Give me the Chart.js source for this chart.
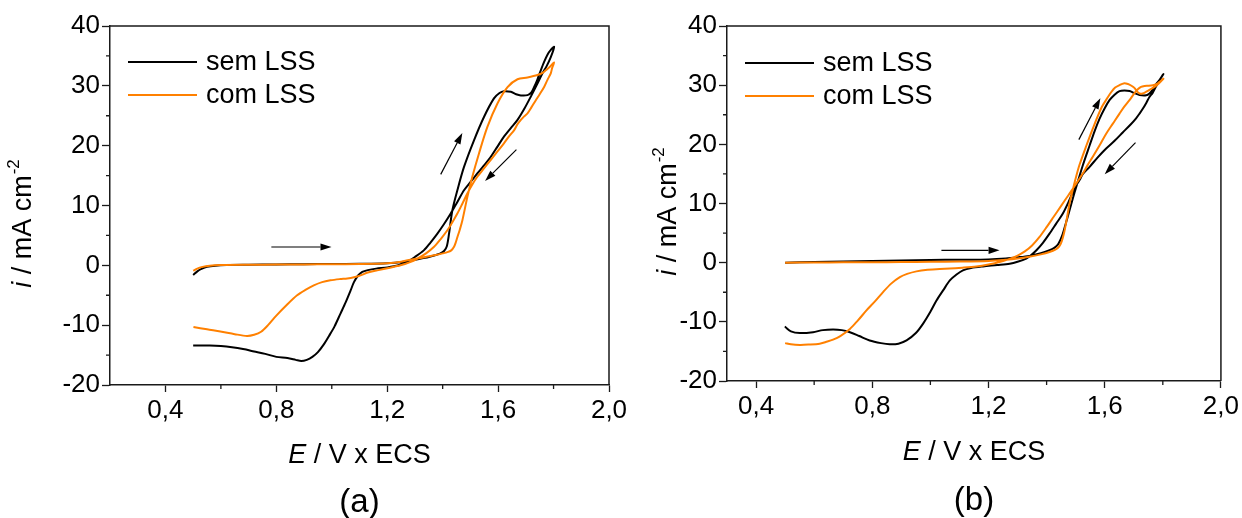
<!DOCTYPE html>
<html>
<head>
<meta charset="utf-8">
<script src="https://cdn.jsdelivr.net/npm/chart.js@4.4.1/dist/chart.umd.min.js"></script>
<style>
  html, body { margin: 0; padding: 0; background: #fff; }
  body { width: 1242px; height: 518px; position: relative; overflow: hidden; }
  .panel { position: absolute; top: 0; height: 518px; }
  #wrapA { left: 0; width: 660px; }
  #wrapB { left: 620px; width: 622px; }
</style>
</head>
<body>
<div id="wrapA" class="panel"><canvas id="cvA"></canvas></div>
<div id="wrapB" class="panel"><canvas id="cvB"></canvas></div>
<script>
// ---------- series labels ----------
const seriesLabels = ['sem LSS', 'com LSS'];
const seriesColors = ['#000000', '#ff8000'];

// ---------- panel (a): E / V and i / mA cm-2 ----------
// sem LSS, anodic scan
const semA_fwd_E = [0.50,0.515,0.53,0.55,0.58,0.62,0.70,0.80,0.90,1.00,1.10,1.20,1.26,1.30,1.35,1.39,1.405,1.415,1.423,1.435,1.453,1.477,1.513,1.549,1.585,1.605,1.621,1.646,1.665,1.682,1.706,1.72,1.73,1.742,1.754,1.766,1.778,1.79,1.802];
const semA_fwd_i = [-1.6,-1.0,-0.6,-0.25,-0.05,0.05,0.1,0.15,0.2,0.22,0.25,0.35,0.6,0.95,1.4,1.95,2.4,3.2,5.3,9.2,12.55,16.45,20.9,24.8,27.9,28.8,29.1,29.0,28.6,28.4,28.45,28.9,29.8,31.1,32.6,34.0,35.2,36.0,36.5];
// sem LSS, cathodic scan
const semA_rev_E = [1.79,1.775,1.76,1.74,1.718,1.695,1.67,1.645,1.621,1.597,1.573,1.549,1.525,1.50,1.477,1.453,1.429,1.405,1.381,1.356,1.332,1.30,1.272,1.24,1.20,1.16,1.13,1.11,1.095,1.08,1.068,1.05,1.031,1.01,0.99,0.97,0.95,0.93,0.91,0.89,0.87,0.84,0.80,0.76,0.72,0.68,0.64,0.60,0.56,0.53,0.50];
const semA_rev_i = [34.8,33.3,32.1,30.2,28.2,26.2,24.3,22.9,21.5,19.8,18.1,16.7,15.35,13.9,12.55,10.6,8.65,6.9,5.3,3.8,2.5,1.4,0.6,0.0,-0.35,-0.55,-0.8,-1.1,-1.7,-2.8,-4.2,-6.2,-8.1,-10.2,-11.8,-13.3,-14.5,-15.3,-15.8,-16.0,-15.8,-15.5,-15.3,-14.8,-14.4,-14.0,-13.7,-13.5,-13.4,-13.4,-13.4];
// com LSS, anodic scan
const comA_fwd_E = [0.50,0.515,0.53,0.56,0.60,0.70,0.80,0.90,1.00,1.10,1.20,1.25,1.284,1.33,1.369,1.40,1.417,1.431,1.441,1.447,1.453,1.462,1.471,1.489,1.507,1.531,1.561,1.598,1.634,1.67,1.706,1.742,1.762,1.772,1.787,1.802];
const comA_fwd_i = [-0.9,-0.55,-0.3,-0.05,0.05,0.1,0.12,0.15,0.18,0.22,0.35,0.6,0.95,1.3,1.67,2.0,2.2,2.5,3.1,3.8,4.7,6.0,7.5,11.4,14.8,18.7,23.1,27.1,29.8,31.1,31.4,31.8,32.2,32.6,33.2,33.9];
// com LSS, cathodic scan
const comA_rev_E = [1.795,1.79,1.778,1.766,1.75,1.736,1.72,1.706,1.694,1.682,1.67,1.658,1.64,1.621,1.597,1.573,1.549,1.525,1.507,1.489,1.471,1.453,1.435,1.417,1.393,1.369,1.34,1.308,1.28,1.248,1.21,1.164,1.13,1.104,1.08,1.056,1.03,0.995,0.965,0.935,0.905,0.875,0.84,0.80,0.77,0.745,0.72,0.694,0.65,0.598,0.55,0.501];
const comA_rev_i = [33.0,32.1,31.0,29.8,28.6,27.6,26.4,25.4,24.9,24.3,23.6,22.6,21.6,20.4,19.0,17.6,16.2,14.8,13.5,12.0,10.3,8.65,7.2,5.86,4.4,3.1,2.0,1.1,0.5,0.0,-0.4,-0.84,-1.2,-1.67,-2.0,-2.2,-2.3,-2.5,-2.8,-3.35,-4.1,-5.0,-6.5,-8.4,-10.0,-11.1,-11.6,-11.8,-11.5,-11.05,-10.7,-10.3];

// ---------- panel (b) ----------
const semB_fwd_E = [0.50,0.60,0.70,0.80,0.90,1.00,1.10,1.20,1.26,1.30,1.34,1.38,1.41,1.425,1.438,1.447,1.456,1.467,1.479,1.49,1.502,1.525,1.548,1.565,1.582,1.60,1.617,1.634,1.651,1.668,1.686,1.70,1.72,1.743,1.754,1.766,1.777,1.789,1.802];
const semB_fwd_i = [0.0,0.1,0.2,0.3,0.38,0.45,0.5,0.55,0.7,0.9,1.15,1.6,2.1,2.45,3.0,3.8,4.9,6.8,8.85,10.8,12.8,16.5,19.8,22.2,24.3,26.1,27.5,28.4,29.0,29.1,29.0,28.7,28.35,28.3,28.6,29.3,30.2,30.9,31.9];
const semB_rev_E = [1.79,1.777,1.765,1.754,1.743,1.731,1.72,1.708,1.69,1.662,1.634,1.605,1.576,1.548,1.525,1.514,1.50,1.49,1.475,1.456,1.433,1.41,1.388,1.365,1.345,1.33,1.30,1.273,1.23,1.181,1.14,1.112,1.09,1.067,1.045,1.021,1.0,0.975,0.95,0.918,0.89,0.86,0.83,0.791,0.755,0.723,0.695,0.665,0.63,0.596,0.551,0.52,0.499];
const semB_rev_i = [30.9,29.8,28.7,28.0,27.0,26.0,25.2,24.4,23.4,22.0,20.6,19.3,17.8,16.2,15.0,14.0,12.9,11.9,10.2,8.3,6.6,4.9,3.4,2.1,1.2,0.68,0.15,-0.17,-0.4,-0.63,-0.9,-1.3,-2.0,-3.0,-4.6,-6.4,-8.3,-10.3,-11.9,-13.15,-13.7,-13.8,-13.6,-13.15,-12.4,-11.75,-11.4,-11.3,-11.4,-11.75,-11.9,-11.6,-10.8];
const comB_fwd_E = [0.50,0.60,0.70,0.80,0.90,1.00,1.10,1.20,1.26,1.30,1.34,1.38,1.41,1.43,1.443,1.452,1.46,1.468,1.479,1.49,1.502,1.513,1.537,1.56,1.59,1.61,1.622,1.636,1.651,1.665,1.68,1.692,1.703,1.712,1.72,1.73,1.743,1.757,1.771,1.786,1.802];
const comB_fwd_i = [0.0,0.02,0.05,0.08,0.1,0.15,0.2,0.3,0.5,0.7,1.0,1.4,1.8,2.2,2.7,3.6,5.0,7.0,10.0,12.3,14.6,16.5,19.8,22.8,26.3,27.9,28.8,29.6,30.0,30.3,30.2,29.9,29.5,28.9,28.6,28.6,28.9,29.3,29.7,30.3,31.1];
const comB_rev_E = [1.79,1.78,1.766,1.751,1.737,1.725,1.714,1.70,1.686,1.668,1.651,1.628,1.605,1.582,1.559,1.54,1.525,1.50,1.475,1.45,1.425,1.40,1.375,1.35,1.325,1.30,1.27,1.238,1.20,1.158,1.11,1.067,1.032,0.99,0.952,0.92,0.895,0.866,0.837,0.81,0.78,0.75,0.723,0.69,0.665,0.64,0.619,0.58,0.551,0.52,0.50];
const comB_rev_i = [30.6,30.2,30.0,29.9,29.85,29.7,29.3,28.5,27.5,26.4,25.2,23.5,21.8,19.8,17.9,16.4,15.1,13.2,11.4,9.6,7.8,6.0,4.3,2.9,1.9,1.2,0.6,0.1,-0.3,-0.63,-0.85,-1.0,-1.05,-1.2,-1.47,-1.9,-2.44,-3.5,-4.97,-6.5,-8.07,-9.8,-11.2,-12.4,-13.0,-13.4,-13.7,-13.85,-13.9,-13.8,-13.6];

// ---------- axis ranges and ticks ----------
const yMin = -20, yMax = 40, yStep = 10;
const yMinorTicks = [-15, -5, 5, 15, 25, 35];
const xMaxE = 2.0, xStep = 0.4;
const xMinA = 0.2, xMinB = 0.3;
const xMinorTicks = [0.6, 1.0, 1.4, 1.8];

// scan-direction arrows [E1, i1, E2, i2] in data units
const arrowsA = [[0.782, 3.06, 0.999, 3.06], [1.393, 15.2, 1.471, 22.1], [1.666, 19.35, 1.553, 14.1]];
const arrowsB = [[1.038, 2.08, 1.238, 2.08], [1.511, 20.8, 1.585, 27.8], [1.706, 20.3, 1.600, 14.95]];

const FONT = '"Liberation Sans", Arial, Helvetica, sans-serif';
const TXT = 27;
Chart.defaults.font.family = FONT;
Chart.defaults.color = '#000';

function pts(E, I) { return E.map((e, k) => ({ x: e, y: I[k] })); }
function commaFmt(v) { return v.toFixed(1).replace('.', ','); }

function arrow(ctx, x1, y1, x2, y2) {
  const ang = Math.atan2(y2 - y1, x2 - x1);
  const hl = 11, hw = 3.6;
  const bx = x2 - hl * Math.cos(ang), by = y2 - hl * Math.sin(ang);
  ctx.beginPath();
  ctx.moveTo(x1, y1);
  ctx.lineTo(bx, by);
  ctx.stroke();
  ctx.beginPath();
  ctx.moveTo(x2, y2);
  ctx.lineTo(bx + hw * Math.sin(ang), by - hw * Math.cos(ang));
  ctx.lineTo(bx - hw * Math.sin(ang), by + hw * Math.cos(ang));
  ctx.closePath();
  ctx.fill();
}

function makePanel(canvasId, p) {
  const decor = {
    id: 'cvDecor',
    afterDatasetsDraw(chart) {
      const ctx = chart.ctx, a = chart.chartArea;
      const xs = chart.scales.x, ys = chart.scales.y;
      ctx.save();
      // frame: top and right edges
      ctx.strokeStyle = '#1a1a1a';
      ctx.lineWidth = 1.5;
      ctx.beginPath();
      ctx.moveTo(a.left, a.top);
      ctx.lineTo(a.right, a.top);
      ctx.lineTo(a.right, a.bottom);
      ctx.stroke();
      // minor ticks
      ctx.lineWidth = 1.3;
      ctx.beginPath();
      xMinorTicks.forEach(v => {
        const px = xs.getPixelForValue(v);
        ctx.moveTo(px, a.bottom); ctx.lineTo(px, a.bottom + 4);
      });
      yMinorTicks.forEach(v => {
        const py = ys.getPixelForValue(v);
        ctx.moveTo(a.left, py); ctx.lineTo(a.left - 4, py);
      });
      ctx.stroke();
      // scan arrows
      ctx.strokeStyle = '#000';
      ctx.fillStyle = '#000';
      ctx.lineWidth = 1.2;
      p.arrows.forEach(r => arrow(ctx,
        xs.getPixelForValue(r[0]), ys.getPixelForValue(r[1]),
        xs.getPixelForValue(r[2]), ys.getPixelForValue(r[3])));
      // legend
      ctx.font = TXT + 'px ' + FONT;
      ctx.textBaseline = 'middle';
      ctx.textAlign = 'left';
      seriesLabels.forEach((lab, k) => {
        const y = p.legendY[k];
        ctx.strokeStyle = seriesColors[k];
        ctx.lineWidth = 2;
        ctx.beginPath();
        ctx.moveTo(a.left + p.legendX0, y);
        ctx.lineTo(a.left + p.legendX1, y);
        ctx.stroke();
        ctx.fillStyle = '#000';
        ctx.fillText(lab, a.left + p.legendText, y + 1);
      });
      // x axis title: E / V x ECS
      ctx.textBaseline = 'alphabetic';
      const cx = (a.left + a.right) / 2;
      ctx.font = 'italic ' + TXT + 'px ' + FONT;
      const wE = ctx.measureText('E').width;
      ctx.font = TXT + 'px ' + FONT;
      const wR = ctx.measureText(' / V x ECS').width;
      let x0 = cx - (wE + wR) / 2;
      ctx.font = 'italic ' + TXT + 'px ' + FONT;
      ctx.fillText('E', x0, p.xTitleY);
      ctx.font = TXT + 'px ' + FONT;
      ctx.fillText(' / V x ECS', x0 + wE, p.xTitleY);
      // y axis title: i / mA cm-2
      ctx.save();
      ctx.translate(p.yTitleX, p.yTitleY);
      ctx.rotate(-Math.PI / 2);
      ctx.font = 'italic ' + TXT + 'px ' + FONT;
      const wi = ctx.measureText('i').width;
      ctx.font = TXT + 'px ' + FONT;
      const wm = ctx.measureText(' / mA cm').width;
      ctx.font = '17px ' + FONT;
      const ws = ctx.measureText('-2').width;
      let t0 = -(wi + wm + ws) / 2;
      ctx.font = 'italic ' + TXT + 'px ' + FONT;
      ctx.fillText('i', t0, 0);
      ctx.font = TXT + 'px ' + FONT;
      ctx.fillText(' / mA cm', t0 + wi, 0);
      ctx.font = '17px ' + FONT;
      ctx.fillText('-2', t0 + wi + wm + 1, -12);
      ctx.restore();
      // panel label
      ctx.font = '33px ' + FONT;
      ctx.textAlign = 'center';
      ctx.fillText(p.tag, cx, p.tagY);
      ctx.restore();
    }
  };

  return new Chart(document.getElementById(canvasId), {
    type: 'scatter',
    data: {
      datasets: [
        { label: seriesLabels[0], data: pts(p.sem.E, p.sem.i), borderColor: seriesColors[0],
          borderWidth: 2, showLine: true, pointRadius: 0, tension: 0.3, order: 2 },
        { label: seriesLabels[1], data: pts(p.com.E, p.com.i), borderColor: seriesColors[1],
          borderWidth: 2, showLine: true, pointRadius: 0, tension: 0.3, order: 1 }
      ]
    },
    options: {
      responsive: true,
      maintainAspectRatio: false,
      animation: false,
      events: [],
      layout: { padding: { left: 0, top: p.top, right: p.right, bottom: 0 } },
      plugins: { legend: { display: false }, tooltip: { enabled: false } },
      scales: {
        x: {
          type: 'linear', min: p.xMin, max: xMaxE,
          border: { display: true, color: '#1a1a1a', width: 1.5 },
          grid: { display: true, drawOnChartArea: false, drawTicks: true, tickLength: 7, tickColor: '#1a1a1a', tickWidth: 1.3 },
          ticks: { stepSize: xStep, includeBounds: false, autoSkip: false, maxRotation: 0, padding: 3,
                   color: '#000', font: { size: 26 }, callback: v => commaFmt(v) },
          afterFit: s => { s.height = p.xAxisH; }
        },
        y: {
          type: 'linear', min: yMin, max: yMax,
          border: { display: true, color: '#1a1a1a', width: 1.5 },
          grid: { display: true, drawOnChartArea: false, drawTicks: true, tickLength: 8, tickColor: '#1a1a1a', tickWidth: 1.3 },
          ticks: { stepSize: yStep, includeBounds: false, autoSkip: false, padding: 2,
                   color: '#000', font: { size: 26 }, callback: v => String(v) },
          afterFit: s => { s.width = p.yAxisW; }
        }
      }
    },
    plugins: [decor]
  });
}

makePanel('cvA', {
  xMin: xMinA, top: 26, right: 51, xAxisH: 133, yAxisW: 110,
  sem: { E: semA_fwd_E.concat(semA_rev_E), i: semA_fwd_i.concat(semA_rev_i) },
  com: { E: comA_fwd_E.concat(comA_rev_E), i: comA_fwd_i.concat(comA_rev_i) },
  arrows: arrowsA,
  legendX0: 18, legendX1: 87, legendText: 96, legendY: [62, 95],
  xTitleY: 463, yTitleX: 31, yTitleY: 224, tag: '(a)', tagY: 512
});

makePanel('cvB', {
  xMin: xMinB, top: 26, right: 21, xAxisH: 137, yAxisW: 107,
  sem: { E: semB_fwd_E.concat(semB_rev_E), i: semB_fwd_i.concat(semB_rev_i) },
  com: { E: comB_fwd_E.concat(comB_rev_E), i: comB_fwd_i.concat(comB_rev_i) },
  arrows: arrowsB,
  legendX0: 18, legendX1: 87, legendText: 96, legendY: [63, 96],
  xTitleY: 460, yTitleX: 56, yTitleY: 212, tag: '(b)', tagY: 510
});
</script>
</body>
</html>
